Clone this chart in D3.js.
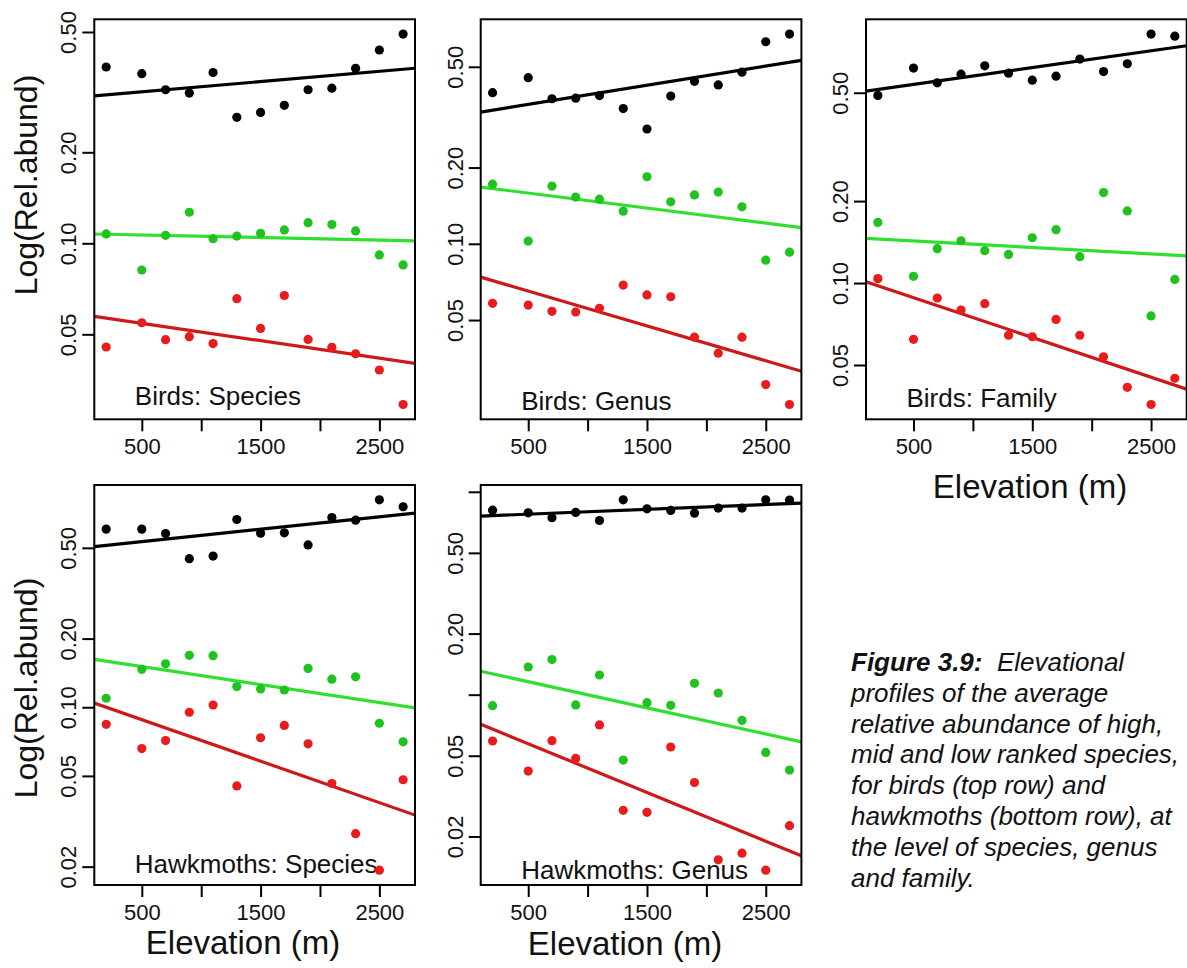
<!DOCTYPE html>
<html>
<head>
<meta charset="utf-8">
<script src="https://cdn.jsdelivr.net/npm/d3@7"></script>
<style>
  body { margin: 0; background: #fff; }
  svg { display: block; font-family: "Liberation Sans", Arial, Helvetica, sans-serif; }
</style>
</head>
<body>
<div id="chart"></div>
<script>
// elevation bands (m)
const elevation = [200, 500, 700, 900, 1100, 1300, 1500, 1700, 1900, 2100, 2300, 2500, 2700];

// relative abundance: high / mid / low ranked species
const birdsSpeciesHigh = [0.383, 0.364, 0.322, 0.314, 0.367, 0.261, 0.271, 0.286, 0.322, 0.326, 0.379, 0.436, 0.492];
const birdsSpeciesMid  = [0.1074, 0.0816, 0.1063, 0.1267, 0.1036, 0.1057, 0.1079, 0.1107, 0.1170, 0.1153, 0.1099, 0.0915, 0.0848];
const birdsSpeciesLow  = [0.0454, 0.0546, 0.0480, 0.0491, 0.0466, 0.0656, 0.0523, 0.0672, 0.0481, 0.0453, 0.0431, 0.0381, 0.0293];

const birdsGenusHigh = [0.395, 0.453, 0.374, 0.376, 0.385, 0.342, 0.284, 0.383, 0.438, 0.424, 0.476, 0.628, 0.673];
const birdsGenusMid  = [0.172, 0.1025, 0.169, 0.153, 0.150, 0.1345, 0.184, 0.1465, 0.156, 0.160, 0.140, 0.0862, 0.0927];
const birdsGenusLow  = [0.0582, 0.0573, 0.0541, 0.0538, 0.0556, 0.0687, 0.0628, 0.0618, 0.0428, 0.0370, 0.0428, 0.0278, 0.0232];

const birdsFamilyHigh = [0.489, 0.616, 0.544, 0.585, 0.628, 0.590, 0.556, 0.575, 0.665, 0.598, 0.639, 0.821, 0.807];
const birdsFamilyMid  = [0.167, 0.1058, 0.1337, 0.143, 0.1315, 0.1274, 0.1467, 0.157, 0.125, 0.215, 0.184, 0.0757, 0.1031];
const birdsFamilyLow  = [0.1038, 0.0621, 0.0881, 0.0796, 0.0840, 0.0643, 0.0635, 0.0735, 0.0643, 0.0536, 0.0414, 0.0358, 0.0447];

const hawkSpeciesHigh = [0.604, 0.604, 0.578, 0.448, 0.460, 0.665, 0.580, 0.582, 0.515, 0.679, 0.661, 0.812, 0.757];
const hawkSpeciesMid  = [0.1095, 0.1466, 0.155, 0.169, 0.1683, 0.1232, 0.1203, 0.119, 0.148, 0.1328, 0.136, 0.0851, 0.0705];
const hawkSpeciesLow  = [0.0842, 0.0659, 0.0714, 0.0951, 0.1023, 0.0452, 0.0735, 0.0832, 0.0691, 0.0463, 0.0279, 0.0193, 0.0481];

const hawkGenusHigh = [0.812, 0.788, 0.745, 0.791, 0.722, 0.913, 0.824, 0.809, 0.785, 0.831, 0.831, 0.913, 0.910];
const hawkGenusMid  = [0.0883, 0.1369, 0.149, 0.0890, 0.125, 0.0476, 0.0913, 0.0886, 0.1138, 0.1019, 0.0747, 0.0519, 0.0425];
const hawkGenusLow  = [0.0591, 0.0420, 0.0593, 0.0485, 0.0709, 0.0269, 0.0263, 0.0552, 0.0369, 0.01534, 0.01655, 0.01364, 0.0226];

// axis ticks
const xTicks = [500, 1000, 1500, 2000, 2500];
const xTickLabels = ["500", "", "1500", "", "2500"];
const yTicksBirds = [0.05, 0.1, 0.2, 0.5];
const yLabelsBirds = ["0.05", "0.10", "0.20", "0.50"];
const yTicksHawkSpecies = [0.02, 0.05, 0.1, 0.2, 0.5];
const yLabelsHawkSpecies = ["0.02", "0.05", "0.10", "0.20", "0.50"];
const yTicksHawkGenus = [0.02, 0.05, 0.1, 0.2, 0.5, 1];
const yLabelsHawkGenus = ["0.02", "0.05", "", "0.20", "0.50", ""];

const captionLines = [
    "profiles of the average",
    "relative abundance of high,",
    "mid and low ranked species,",
    "for birds (top row) and",
    "hawkmoths (bottom row), at",
    "the level of species, genus",
    "and family."
];

const colors = {
    high: { pt: "#000000", line: "#000000" },
    mid:  { pt: "#1fc21f", line: "#30e030" },
    low:  { pt: "#e81c1c", line: "#cc1a1a" }
};

const panels = [
    { label: "Birds: Species", high: birdsSpeciesHigh, mid: birdsSpeciesMid, low: birdsSpeciesLow,
      left: 94.3, top: 19.3, yTicks: yTicksBirds, yLabels: yLabelsBirds, labelY: 405, yTitle: 185 },
    { label: "Birds: Genus", high: birdsGenusHigh, mid: birdsGenusMid, low: birdsGenusLow,
      left: 480.7, top: 19.3, yTicks: yTicksBirds, yLabels: yLabelsBirds, labelY: 410 },
    { label: "Birds: Family", high: birdsFamilyHigh, mid: birdsFamilyMid, low: birdsFamilyLow,
      left: 866, top: 19.3, yTicks: yTicksBirds, yLabels: yLabelsBirds, labelY: 407, xTitle: [1030, 498] },
    { label: "Hawkmoths: Species", high: hawkSpeciesHigh, mid: hawkSpeciesMid, low: hawkSpeciesLow,
      left: 94.3, top: 485, yTicks: yTicksHawkSpecies, yLabels: yLabelsHawkSpecies, labelY: 873, yTitle: 688, xTitle: [243, 954] },
    { label: "Hawkmoths: Genus", high: hawkGenusHigh, mid: hawkGenusMid, low: hawkGenusLow,
      left: 480.7, top: 485, yTicks: yTicksHawkGenus, yLabels: yLabelsHawkGenus, labelY: 879, xTitle: [625, 955] }
];

const W = 1187, H = 968;
const boxW = 320.7, boxH = 400;

const svg = d3.select("#chart").append("svg")
    .attr("width", W)
    .attr("height", H);

svg.append("rect").attr("width", W).attr("height", H).attr("fill", "#fff");

// R style 4% padding of the data range
function padExtent(ext, f) {
    const d = (ext[1] - ext[0]) * f;
    return [ext[0] - d, ext[1] + d];
}

// least squares of log10(y) on x
function fitLog(xs, ys) {
    const ly = ys.map(v => Math.log10(v));
    const mx = d3.mean(xs), my = d3.mean(ly);
    let sxy = 0, sxx = 0;
    xs.forEach((x, i) => { sxy += (x - mx) * (ly[i] - my); sxx += (x - mx) * (x - mx); });
    const b = sxy / sxx;
    const a = my - b * mx;
    return x => Math.pow(10, a + b * x);
}

panels.forEach((p, pi) => {
    const g = svg.append("g").attr("transform", `translate(${p.left},${p.top})`);

    const xDom = padExtent(d3.extent(elevation), 0.04);
    const x = d3.scaleLinear().domain(xDom).range([0, boxW]);

    const allVals = p.high.concat(p.mid, p.low);
    const logExt = padExtent(d3.extent(allVals).map(Math.log10), 0.04);
    const y = d3.scaleLog().domain(logExt.map(v => Math.pow(10, v))).range([boxH, 0]);

    const clipId = "clip" + pi;
    g.append("clipPath").attr("id", clipId)
        .append("rect").attr("width", boxW).attr("height", boxH);

    // panel label
    g.append("text")
        .attr("x", 40.5)
        .attr("y", p.labelY - p.top)
        .attr("font-size", 26)
        .attr("fill", "#111")
        .text(p.label);

    const plot = g.append("g").attr("clip-path", `url(#${clipId})`);

    ["high", "mid", "low"].forEach(key => {
        const f = fitLog(elevation, p[key]);
        plot.append("line")
            .attr("x1", x(xDom[0])).attr("y1", y(f(xDom[0])))
            .attr("x2", x(xDom[1])).attr("y2", y(f(xDom[1])))
            .attr("stroke", colors[key].line)
            .attr("stroke-width", 3.2);
    });

    ["high", "mid", "low"].forEach(key => {
        plot.selectAll(null)
            .data(p[key])
            .enter().append("circle")
            .attr("cx", (d, i) => x(elevation[i]))
            .attr("cy", d => y(d))
            .attr("r", 4.6)
            .attr("fill", colors[key].pt);
    });

    // axes
    const xAxis = g.append("g")
        .attr("transform", `translate(0,${boxH})`)
        .call(d3.axisBottom(x).tickValues(xTicks).tickSize(12).tickFormat((d, i) => xTickLabels[i]));
    xAxis.select(".domain").remove();
    xAxis.selectAll(".tick line").attr("stroke", "#000").attr("stroke-width", 2);
    xAxis.selectAll(".tick text")
        .attr("y", 35).attr("dy", 0)
        .attr("font-size", 22).attr("fill", "#111")
        .attr("font-family", "Liberation Sans, Arial, sans-serif");

    const yAxis = g.append("g")
        .call(d3.axisLeft(y).tickValues(p.yTicks).tickSize(12).tickFormat((d, i) => p.yLabels[i]));
    yAxis.select(".domain").remove();
    yAxis.selectAll(".tick line").attr("stroke", "#000").attr("stroke-width", 2);
    yAxis.selectAll(".tick text")
        .attr("x", 0).attr("dy", 0)
        .attr("text-anchor", "middle")
        .attr("transform", "translate(-18,0) rotate(-90)")
        .attr("font-size", 22).attr("fill", "#111")
        .attr("font-family", "Liberation Sans, Arial, sans-serif");

    g.append("rect")
        .attr("width", boxW).attr("height", boxH)
        .attr("fill", "none").attr("stroke", "#000").attr("stroke-width", 2);

    if (p.yTitle) {
        svg.append("text")
            .attr("transform", `translate(37,${p.yTitle}) rotate(-90)`)
            .attr("text-anchor", "middle")
            .attr("font-size", 32).attr("fill", "#111")
            .text("Log(Rel.abund)");
    }
    if (p.xTitle) {
        svg.append("text")
            .attr("x", p.xTitle[0]).attr("y", p.xTitle[1])
            .attr("text-anchor", "middle")
            .attr("font-size", 33).attr("fill", "#111")
            .text("Elevation (m)");
    }
});

// caption
const cap = svg.append("g").attr("font-size", 26).attr("font-style", "italic").attr("fill", "#111");
const first = cap.append("text").attr("x", 851).attr("y", 671);
first.append("tspan").attr("font-weight", "bold").text("Figure 3.9:");
first.append("tspan").attr("xml:space", "preserve").text("\u00a0 Elevational");
cap.selectAll(null)
    .data(captionLines)
    .enter().append("text")
    .attr("x", 851)
    .attr("y", (d, i) => 671 + (i + 1) * 30.8)
    .text(d => d);
</script>
</body>
</html>
